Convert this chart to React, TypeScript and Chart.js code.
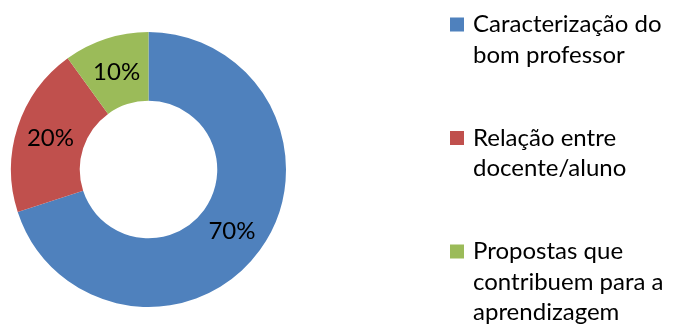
import React, { useEffect, useRef } from "react";
import { Chart, registerables } from "chart.js";

Chart.register(...registerables);

// ---- data ----
const categories: string[][] = [
  ["Caracterização do", "bom professor"],
  ["Relação entre", "docente/aluno"],
  ["Propostas que", "contribuem para a", "aprendizagem"],
];
const values: number[] = [70, 20, 10];
const colors: string[] = ["#4F81BD", "#C0504D", "#9BBB59"];

// ---- style ----
const FONT = "Lato, 'Open Sans', sans-serif";
const FONT_SIZE = 24;

const sliceLabels = {
  id: "sliceLabels",
  afterDatasetsDraw(chart: any) {
    const ctx = chart.ctx;
    const meta = chart.getDatasetMeta(0);
    const data = chart.data.datasets[0].data as number[];
    const total = data.reduce((a, b) => a + b, 0);
    ctx.save();
    ctx.font = `${FONT_SIZE}px ${FONT}`;
    ctx.fillStyle = "#000";
    ctx.textAlign = "center";
    ctx.textBaseline = "middle";
    meta.data.forEach((arc: any, i: number) => {
      const p = arc.tooltipPosition(false);
      ctx.fillText(Math.round((data[i] / total) * 100) + "%", p.x, p.y + 1);
    });
    ctx.restore();
  },
};

const LEG_X = 450;
const LEG_BOX = 14;
const LEG_TEXT_X = 473;
const LEG_TOP = 17.5;
const LEG_STEP = 113.5;
const LEG_LINE = 30.5;
const LEG_BASE = 14.8;

const sideLegend = {
  id: "sideLegend",
  afterDraw(chart: any) {
    const ctx = chart.ctx;
    const labels = chart.data.labels as string[][];
    const bg = chart.data.datasets[0].backgroundColor as string[];
    ctx.save();
    ctx.font = `${FONT_SIZE}px ${FONT}`;
    ctx.textAlign = "left";
    ctx.textBaseline = "alphabetic";
    labels.forEach((lines, i) => {
      const top = LEG_TOP + i * LEG_STEP;
      ctx.fillStyle = bg[i];
      ctx.fillRect(LEG_X, top, LEG_BOX, LEG_BOX);
      ctx.fillStyle = "#000";
      lines.forEach((line, j) => {
        ctx.fillText(line, LEG_TEXT_X, top + LEG_BASE + j * LEG_LINE);
      });
    });
    ctx.restore();
  },
};

export default function App() {
  const ref = useRef<HTMLCanvasElement | null>(null);
  useEffect(() => {
    document.body.style.margin = "0";
    document.body.style.background = "#fff";
    if (!ref.current) return;
    const chart = new Chart(ref.current, {
      type: "doughnut",
      data: {
        labels: categories,
        datasets: [
          {
            data: values,
            backgroundColor: colors,
            borderWidth: 0,
          },
        ],
      },
      options: {
        animation: false,
        responsive: true,
        maintainAspectRatio: false,
        cutout: "50%",
        layout: { padding: { left: 11, top: 32, bottom: 19, right: 388 } },
        plugins: {
          legend: { display: false },
          tooltip: { enabled: false },
        },
      },
      plugins: [sliceLabels, sideLegend],
    });
    return () => chart.destroy();
  }, []);
  return (
    <div style={{ width: 674, height: 326, position: "relative", background: "#fff" }}>
      <canvas ref={ref} />
    </div>
  );
}
